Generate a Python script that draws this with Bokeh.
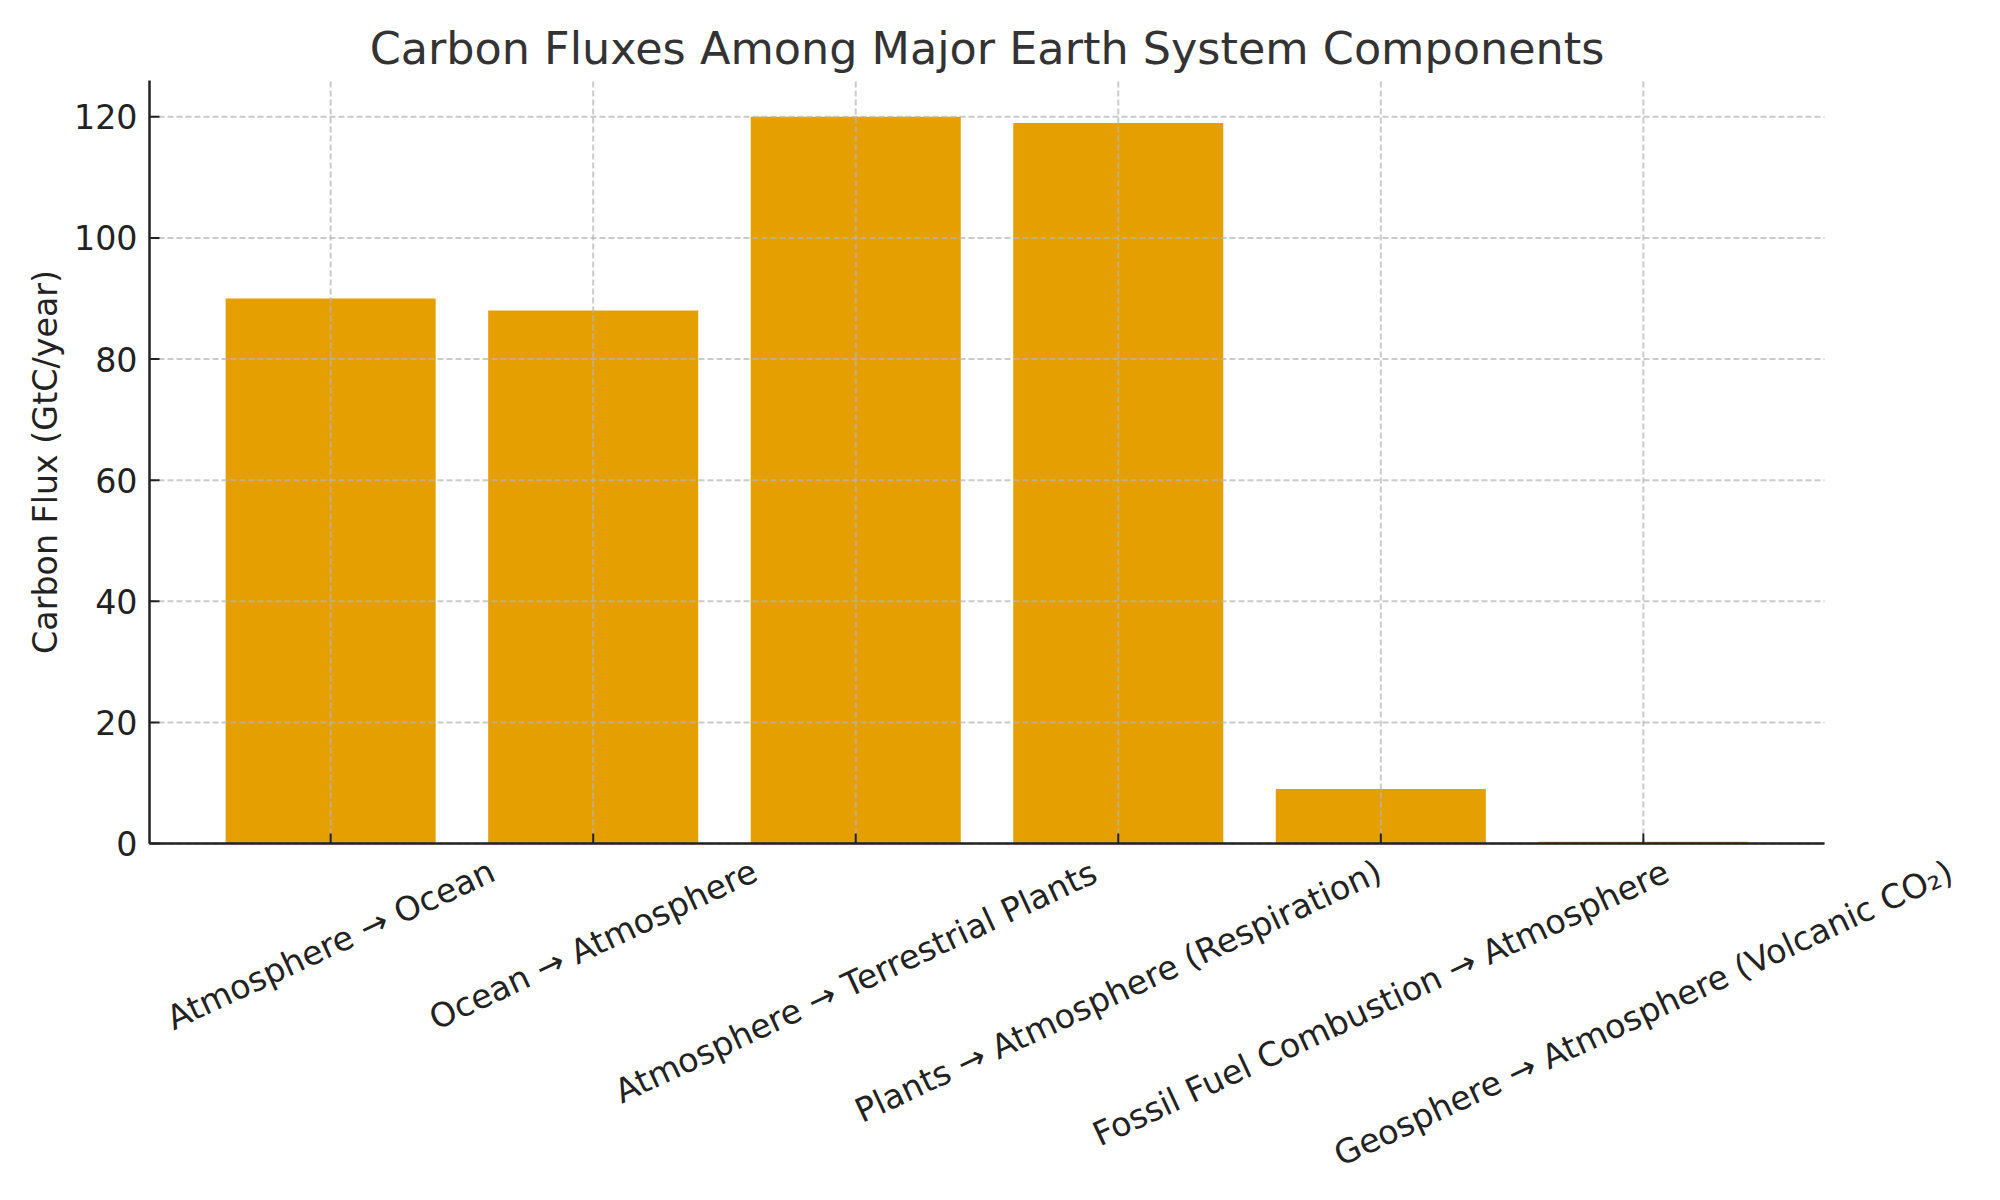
import math
from bokeh.plotting import figure
from bokeh.models import ColumnDataSource, Range1d
from bokeh.core.properties import value
from bokeh.embed import file_html
from bokeh.resources import INLINE

# ---- data ----
categories = [
    "Atmosphere → Ocean",
    "Ocean → Atmosphere",
    "Atmosphere → Terrestrial Plants",
    "Plants → Atmosphere (Respiration)",
    "Fossil Fuel Combustion → Atmosphere",
    "Geosphere → Atmosphere (Volcanic CO₂)",
]
fluxes = [90, 88, 120, 119, 9, 0.3]
y_ticks = [0, 20, 40, 60, 80, 100, 120]
y_tick_labels = ["0", "20", "40", "60", "80", "100", "120"]

title_text = "Carbon Fluxes Among Major Earth System Components"
y_label = "Carbon Flux (GtC/year)"

# ---- style ----
BAR_COLOR = "#E69F00"
AXIS_COLOR = "#222222"
GRID_COLOR = "#b5b5b5"
TITLE_COLOR = "#333333"
FONT = "DejaVu Sans"
LABEL_PX = 33.3
TITLE_PX = 44.5
ANGLE = 25

# layout (pixels): axes box of the reference
W_FIG, H_FIG = 2000, 1200
AX_LEFT, AX_RIGHT, AX_TOP, AX_BOTTOM = 149, 1824, 80, 843
TITLE_Y = 48
YLABEL_X = 45

# approximate DejaVu Sans advance widths (em) to centre rotated labels like matplotlib
CW = {
    "A": .684, "C": .698, "F": .575, "G": .775, "O": .787, "P": .603, "R": .695,
    "T": .611, "V": .684,
    "a": .613, "b": .635, "c": .550, "e": .615, "h": .634, "i": .278, "l": .278,
    "m": .974, "n": .634, "o": .612, "p": .635, "r": .411, "s": .521, "t": .392,
    "u": .634, "y": .592, "x": .592,
    " ": .318, "(": .390, ")": .390, "→": .838, "₂": .401,
}


def text_w(s):
    return sum(CW.get(ch, 0.6) for ch in s) * LABEL_PX


n = len(categories)
xs = list(range(n))
pad = 0.05 * (n - 1 + 0.8)
x0, x1 = -0.4 - pad, n - 1 + 0.4 + pad
y1 = max(fluxes) * 1.05

# the frame fills the whole canvas; the axes box sits inside it
ppx = (AX_RIGHT - AX_LEFT) / (x1 - x0)
ppy = (AX_BOTTOM - AX_TOP) / y1
x_start = x0 - AX_LEFT / ppx
x_end = x1 + (W_FIG - AX_RIGHT) / ppx
y_start = -(H_FIG - AX_BOTTOM) / ppy
y_end = y1 + AX_TOP / ppy

p = figure(
    width=W_FIG, height=H_FIG,
    x_range=Range1d(x_start, x_end),
    y_range=Range1d(y_start, y_end),
    output_backend="svg", toolbar_location=None,
    min_border_left=0, min_border_right=0,
    min_border_top=0, min_border_bottom=0,
)
p.outline_line_color = None
p.background_fill_color = "white"
p.border_fill_color = "white"
p.xaxis.visible = False
p.yaxis.visible = False
p.xgrid.visible = False
p.ygrid.visible = False

# bars
src = ColumnDataSource(dict(x=xs, top=fluxes))
p.vbar(x="x", top="top", width=0.8, bottom=0, source=src,
       fill_color=BAR_COLOR, line_color=None)

# dashed grid, drawn above the bars
grid_kw = dict(line_color=GRID_COLOR, line_alpha=0.7, line_width=2, line_dash="6 3")
p.segment(x0=xs, x1=xs, y0=[0] * n, y1=[y1] * n, **grid_kw)
p.segment(x0=[x0] * len(y_ticks), x1=[x1] * len(y_ticks), y0=y_ticks, y1=y_ticks, **grid_kw)

# spines (left and bottom) with inward ticks
p.segment(x0=[x0, x0], x1=[x1, x0], y0=[0, 0], y1=[0, y1],
          line_color=AXIS_COLOR, line_width=2.5)
p.ray(x=xs, y=[0] * n, length=10, length_units="screen", angle=90, angle_units="deg",
      line_color=AXIS_COLOR, line_width=2)
p.ray(x=[x0] * len(y_ticks), y=y_ticks, length=10, length_units="screen",
      angle=0, angle_units="deg", line_color=AXIS_COLOR, line_width=2)

# y tick labels
p.text(x=[x0 - 12 / ppx] * len(y_ticks), y=y_ticks, text=y_tick_labels,
       text_align="right", text_baseline="middle",
       text_font=value(FONT), text_font_size=value(f"{LABEL_PX}px"),
       text_color=AXIS_COLOR)

# y axis label
p.text(x=[x0 - (AX_LEFT - YLABEL_X) / ppx], y=[y1 / 2], text=[y_label],
       angle=90, angle_units="deg", text_align="center", text_baseline="middle",
       text_font=value(FONT), text_font_size=value(f"{LABEL_PX}px"),
       text_color=AXIS_COLOR)

# title
p.text(x=[(x0 + x1) / 2], y=[y1 + (AX_TOP - TITLE_Y) / ppy], text=[title_text],
       text_align="center", text_baseline="middle",
       text_font=value(FONT), text_font_size=value(f"{TITLE_PX}px"),
       text_color=TITLE_COLOR)

# rotated category labels, centred under each tick (matplotlib style)
sa, ca = math.sin(math.radians(ANGLE)), math.cos(math.radians(ANGLE))
h = 0.68 * LABEL_PX
label_y = [-(15 + (text_w(c) * sa + h * ca) / 2) / ppy for c in categories]
lsrc = ColumnDataSource(dict(x=xs, y=label_y, text=categories))
p.text(x="x", y="y", text="text", source=lsrc, angle=ANGLE, angle_units="deg",
       text_align="center", text_baseline="middle",
       text_font=value(FONT), text_font_size=value(f"{LABEL_PX}px"),
       text_color=AXIS_COLOR)

open("out.html", "w").write(file_html(p, INLINE))
